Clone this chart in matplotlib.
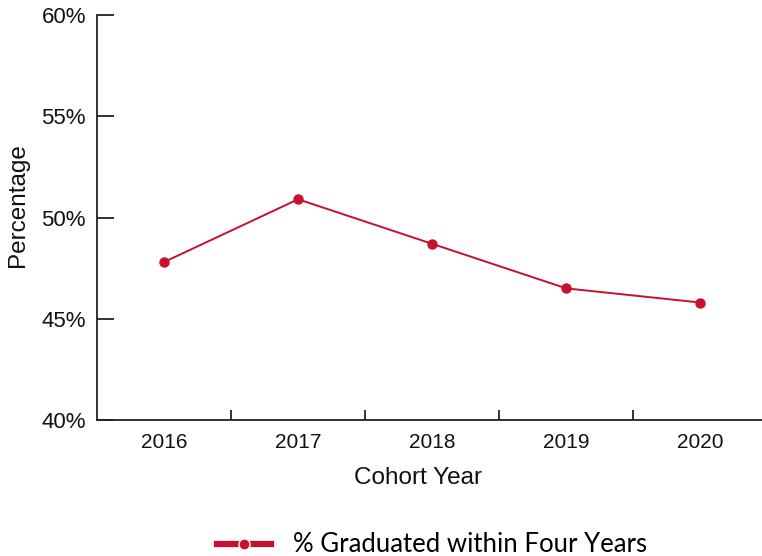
import matplotlib
matplotlib.use("Agg")
import matplotlib.pyplot as plt
from matplotlib.lines import Line2D
from matplotlib.ticker import FuncFormatter, FixedLocator

years = ["2016", "2017", "2018", "2019", "2020"]
grad4 = [47.8, 50.9, 48.7, 46.5, 45.8]
series_name = "% Graduated within Four Years"
yticks = [40, 45, 50, 55, 60]

RED = "#C8102E"
AX = "#222222"
plt.rcParams['font.family'] = ['Liberation Sans', 'DejaVu Sans']

fig = plt.figure(figsize=(7.62, 5.56), dpi=100)
ax = fig.add_axes([97/762, 136/556, (762-97)/762, 405/556])

x = list(range(len(years)))
ax.plot(x, grad4, color=RED, lw=1.4, marker='o', ms=6.5, mec=RED, mfc=RED)

ax.set_xlim(-0.5, 4.46)
ax.set_ylim(40, 60)
ax.set_xticks(x)
ax.set_xticklabels(years)
ax.xaxis.set_minor_locator(FixedLocator([i + 0.5 for i in range(len(years) - 1)]))
ax.set_yticks(yticks)
ax.yaxis.set_major_formatter(FuncFormatter(lambda v, p: f"{v:.0f}%"))

for s in ['top', 'right']:
    ax.spines[s].set_visible(False)
for s in ['left', 'bottom']:
    ax.spines[s].set_color(AX)
    ax.spines[s].set_linewidth(1.3)

ax.tick_params(axis='x', which='major', length=0, pad=9, labelsize=15, colors='#111111')
ax.tick_params(axis='x', which='minor', direction='in', length=7.5, width=1.3, color=AX)
ax.tick_params(axis='y', which='major', direction='in', length=12, width=1.3, color=AX,
               pad=8, labelsize=16, labelcolor='#111111')

ax.set_xlabel("Cohort Year", fontsize=17.5, color='#111111', va='center')
ax.set_ylabel("Percentage", fontsize=17.5, color='#111111', va='center')
ax.xaxis.set_label_coords((418 - 97) / 665, (420 - 478) / 405)
ax.yaxis.set_label_coords((18 - 97) / 665, (420 - 205) / 405)

handle = Line2D([0], [0], color=RED, lw=4.5, marker='o', ms=8, mfc=RED, mec='white', mew=1)
fig.legend([handle], [series_name], loc='center', bbox_to_anchor=(432/762, 1 - 545/556),
           frameon=False, handlelength=2.1, handletextpad=0.85, borderpad=0.2,
           prop={'family': ['Lato', 'DejaVu Sans'], 'size': 18.5})

fig.savefig("out.png", dpi=100)
